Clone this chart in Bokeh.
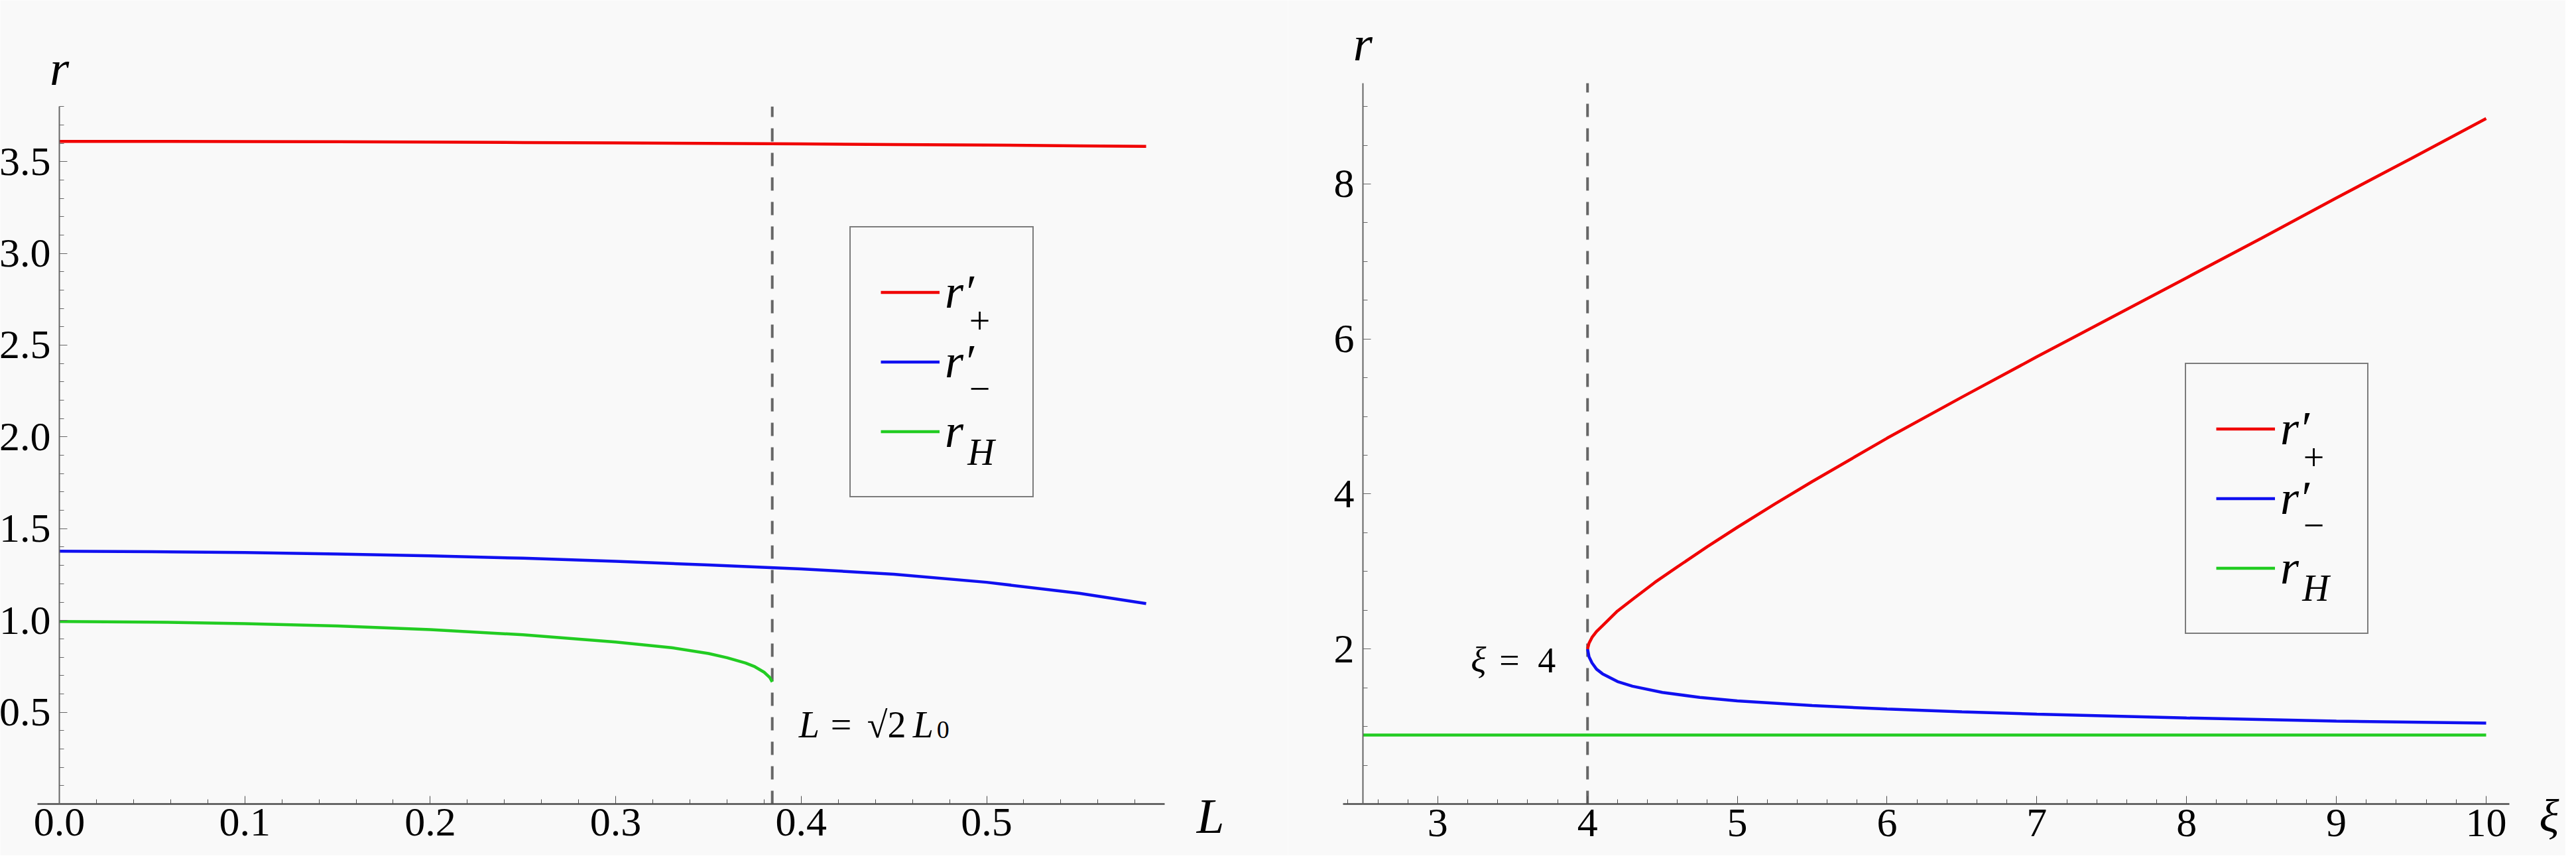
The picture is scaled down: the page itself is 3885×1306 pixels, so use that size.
from bokeh.plotting import figure
from bokeh.models import FixedTicker, PrintfTickFormatter, Label, Legend, LegendItem
from bokeh.layouts import row
from bokeh.embed import file_html
from bokeh.resources import INLINE

# left panel: r against L
L_vals = [0.0, 0.05, 0.1, 0.15, 0.2, 0.25, 0.3, 0.35, 0.4, 0.45, 0.5, 0.55, 0.586]
rplus_L = [3.610, 3.610, 3.609, 3.608, 3.606, 3.604, 3.602, 3.599, 3.596, 3.593, 3.590, 3.586, 3.583]
rminus_L = [1.377, 1.375, 1.370, 1.362, 1.352, 1.339, 1.322, 1.302, 1.281, 1.252, 1.208, 1.148, 1.092]
L_h = [0.0, 0.05, 0.1, 0.15, 0.2, 0.25, 0.3, 0.33, 0.35, 0.36, 0.37, 0.375, 0.38, 0.383, 0.3844]
rH_L = [0.994, 0.991, 0.983, 0.970, 0.950, 0.922, 0.882, 0.852, 0.820, 0.797, 0.768, 0.748, 0.718, 0.690, 0.665]
L_crit = 0.3844

# right panel: r against xi
xi_up = [4.0, 4.01, 4.03, 4.06, 4.1, 4.2, 4.3, 4.45, 4.6, 4.8, 5.0, 5.25, 5.5, 6.0, 6.5,
         7.0, 7.5, 8.0, 8.5, 9.0, 9.5, 10.0]
rplus_xi = [2.000, 2.075, 2.150, 2.225, 2.300, 2.490, 2.640, 2.860, 3.060, 3.320, 3.570, 3.870,
            4.160, 4.720, 5.250, 5.770, 6.280, 6.790, 7.300, 7.820, 8.330, 8.845]
xi_low = [4.0, 4.01, 4.03, 4.06, 4.1, 4.2, 4.3, 4.5, 4.75, 5.0, 5.5, 6.0, 6.5, 7.0, 8.0, 9.0, 10.0]
rminus_xi = [2.000, 1.900, 1.820, 1.740, 1.680, 1.580, 1.520, 1.440, 1.375, 1.330, 1.270, 1.225,
             1.190, 1.160, 1.110, 1.070, 1.044]
xi_h = [2.5, 10.0]
rH_xi = [0.89, 0.89]
xi_crit = 4.0

# axis extents and ticks
L_axis = (-0.0118, 0.596)
rL_axis = (0.0, 3.8)
xi_axis = (2.367, 10.155)
rxi_axis = (0.0, 9.3)
L_ticks = [0.0, 0.1, 0.2, 0.3, 0.4, 0.5]
L_minor = [round(0.02 * i, 2) for i in range(30)]
rL_ticks = [0.5, 1.0, 1.5, 2.0, 2.5, 3.0, 3.5]
rL_minor = [round(0.1 * i, 1) for i in range(1, 39)]
xi_ticks = [3, 4, 5, 6, 7, 8, 9, 10]
xi_minor = [round(2.4 + 0.2 * i, 1) for i in range(39)]
rxi_ticks = [2, 4, 6, 8]
rxi_minor = [0.5 * i for i in range(1, 19)]

BG = "#f9f9f9"
SERIF = "Liberation Serif"
RED, BLUE, GREEN = "#f00000", "#1010f0", "#22cc22"


def make_fig(width, xr, yr):
    p = figure(width=width, height=1290, x_range=xr, y_range=yr,
               toolbar_location=None, output_backend="svg",
               min_border_left=0, min_border_right=0, min_border_top=0, min_border_bottom=0)
    p.background_fill_color = BG
    p.border_fill_color = BG
    p.outline_line_color = None
    p.xgrid.visible = False
    p.ygrid.visible = False
    return p


def style_axes(p, xb, yb, xt, xm, yt, ym):
    for ax, t, m, b in ((p.xaxis, xt, xm, xb), (p.yaxis, yt, ym, yb)):
        ax.ticker = FixedTicker(ticks=t, minor_ticks=m)
        ax.bounds = b
        ax.major_tick_in = 12
        ax.major_tick_out = 0
        ax.minor_tick_in = 7
        ax.minor_tick_out = 0
        ax.major_label_text_font = SERIF
        ax.major_label_text_font_size = "62px"
        ax.major_label_text_color = "black"
    p.xaxis.fixed_location = yb[0]
    p.xaxis.axis_line_color = "#4d4d4d"
    p.xaxis.axis_line_width = 2.5
    p.xaxis.major_tick_line_color = "#4d4d4d"
    p.xaxis.minor_tick_line_color = "#4d4d4d"
    p.xaxis.major_label_standoff = 8
    p.yaxis.axis_line_color = "#666666"
    p.yaxis.axis_line_width = 2
    p.yaxis.major_tick_line_color = "#666666"
    p.yaxis.minor_tick_line_color = "#666666"
    p.yaxis.major_label_standoff = 13


def add_legend(p, lines, loc, label_width, subs):
    items = [LegendItem(label="r\u2032", renderers=[lines[0]]),
             LegendItem(label="r\u2032", renderers=[lines[1]]),
             LegendItem(label="r", renderers=[lines[2]])]
    leg = Legend(items=items, location=loc, padding=45, spacing=0,
                 glyph_width=89, glyph_height=105, label_height=105,
                 label_width=label_width, label_standoff=8,
                 label_text_font=SERIF, label_text_font_style="italic",
                 label_text_font_size="72px", label_text_color="black",
                 border_line_color="black", border_line_width=2.5,
                 background_fill_alpha=0.0)
    p.add_layout(leg)
    for (txt, sx, sy, st) in subs:
        p.add_layout(Label(x=sx, y=sy, x_units="screen", y_units="screen", text=txt,
                           text_font=SERIF, text_font_size="56px", text_font_style=st,
                           text_color="black", text_align="center", text_baseline="alphabetic"))


def text(p, x, y, txt, size, style="normal", dx=0, dy=0, align="left"):
    p.add_layout(Label(x=x, y=y, x_offset=dx, y_offset=dy, text=txt, text_font=SERIF,
                       text_font_size=size, text_font_style=style, text_align=align,
                       text_color="black", text_baseline="alphabetic"))


# ---------- left panel ----------
p1 = make_fig(1942, (-0.03182, 0.66249), (-0.2818, 4.3786))
style_axes(p1, L_axis, rL_axis, L_ticks, L_minor, rL_ticks, rL_minor)
p1.yaxis.fixed_location = 0.0
p1.xaxis.formatter = PrintfTickFormatter(format="%.1f")
p1.yaxis.formatter = PrintfTickFormatter(format="%.1f")

p1.segment(x0=[L_crit], y0=[rL_axis[0]], x1=[L_crit], y1=[rL_axis[1]],
           line_color="#666666", line_width=4, line_dash="20 17")
a1 = p1.line(L_vals, rplus_L, line_color=RED, line_width=4.5)
b1 = p1.line(L_vals, rminus_L, line_color=BLUE, line_width=4.5)
g1 = p1.line(L_h, rH_L, line_color=GREEN, line_width=4.5)

add_legend(p1, [a1, b1, g1], (1281, 540), 87,
           [("+", 1477, 807, "normal"), ("\u2212", 1477, 705, "normal"), ("H", 1479, 609, "italic")])

text(p1, 0.0, 4.0096, "r", "75px", "italic", align="center")
text(p1, 0.6132, -0.065, "L", "75px", "italic")
# L = sqrt(2) L0
text(p1, L_crit, 0.4335, "L", "56px", "italic", dx=40)
text(p1, L_crit, 0.4335, "=", "56px", dx=88)
text(p1, L_crit, 0.4335, "\u221a2", "56px", dx=143)
text(p1, L_crit, 0.4335, "L", "56px", "italic", dx=212)
text(p1, L_crit, 0.4335, "0", "38px", dx=248, dy=-8)

# ---------- right panel ----------
p2 = make_fig(1927, (2.0, 10.5313), (-0.6673, 10.3696))
style_axes(p2, xi_axis, rxi_axis, xi_ticks, xi_minor, rxi_ticks, rxi_minor)
p2.yaxis.fixed_location = 2.5

p2.segment(x0=[xi_crit], y0=[rxi_axis[0]], x1=[xi_crit], y1=[rxi_axis[1]],
           line_color="#666666", line_width=4, line_dash="20 17")
g2 = p2.line(xi_h, rH_xi, line_color=GREEN, line_width=4.5)
b2 = p2.line(xi_low, rminus_xi, line_color=BLUE, line_width=4.5)
a2 = p2.line(xi_up, rplus_xi, line_color=RED, line_width=4.5)

add_legend(p2, [a2, b2, g2], (1353, 334), 86,
           [("+", 1547, 601, "normal"), ("\u2212", 1547, 499, "normal"), ("H", 1550, 404, "italic")])

text(p2, 2.5, 9.813, "r", "75px", "italic", align="center")
text(p2, 10.354, -0.154, "\u03be", "70px", "italic")
text(p2, xi_crit, 1.856, "\u03be", "54px", "italic", dx=-176)
text(p2, xi_crit, 1.856, "=", "54px", dx=-133)
text(p2, xi_crit, 1.856, "4", "54px", dx=-75)

layout = row(p1, p2)
open("out.html", "w").write(file_html(layout, INLINE))
